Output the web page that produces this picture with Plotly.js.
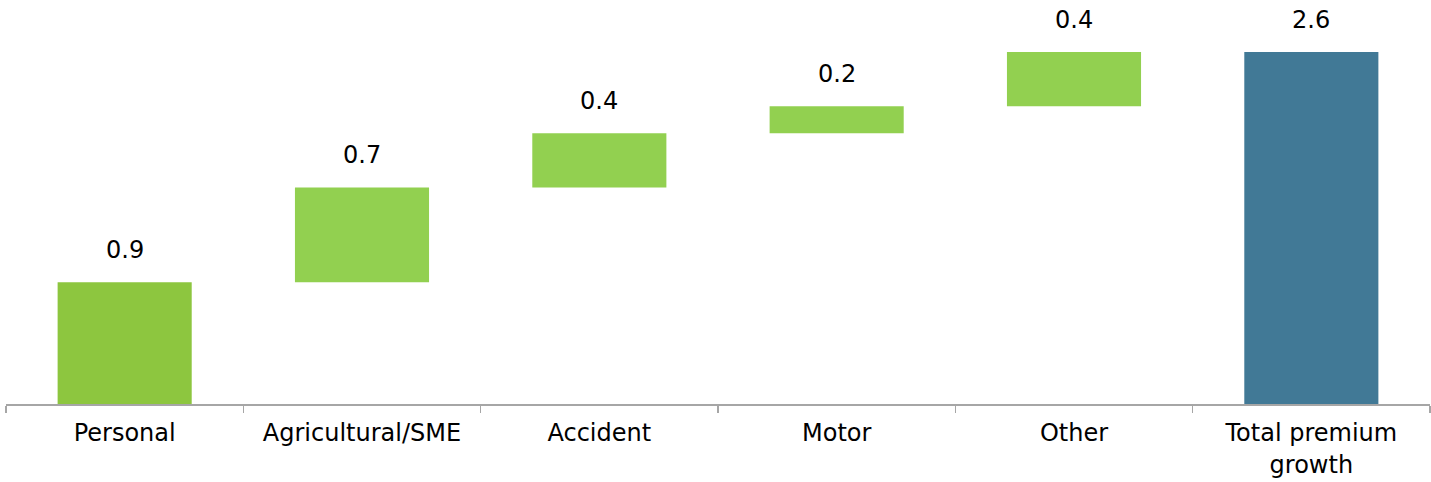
<!DOCTYPE html>
<html>
<head>
<meta charset="utf-8">
<script src="https://cdn.plot.ly/plotly-3.0.1.min.js"></script>
<style>html,body{margin:0;padding:0;background:#fff;}#chart{width:1431px;height:482px;}</style>
</head>
<body>
<div id="chart"></div>
<script>
const categories = ["Personal", "Agricultural/SME", "Accident", "Motor", "Other", "Total premium<br>growth"];
const increments = [0.9, 0.7, 0.4, 0.2, 0.4];
const total = 2.6;
const labels = ["0.9", "0.7", "0.4", "0.2", "0.4", "2.6"];
const barColors = ["#8DC63F", "#92D050", "#92D050", "#92D050", "#92D050", "#417996"];

const bases = [];
let run = 0;
for (const v of increments) { bases.push(run); run += v; }
bases.push(0);
const heights = increments.concat([total]);
const tops = heights.map((h, i) => h + bases[i]);

const FONT = "DejaVu Sans, Verdana, sans-serif";

const trace = {
  type: "bar",
  x: categories,
  y: heights,
  base: bases,
  marker: {color: barColors, line: {width: 0}},
  hoverinfo: "skip"
};

const annotations = categories.map((c, i) => ({
  x: c, y: tops[i], xref: "x", yref: "y",
  text: labels[i], showarrow: false,
  yanchor: "bottom", yshift: 16,
  font: {family: FONT, size: 24, color: "#000"}
}));

const layout = {
  width: 1431, height: 482,
  margin: {l: 6, r: 1, t: 52, b: 78},
  paper_bgcolor: "#fff", plot_bgcolor: "#fff",
  showlegend: false,
  bargap: 0.435,
  font: {family: FONT, size: 24, color: "#000"},
  xaxis: {
    type: "category",
    showline: true, linecolor: "#A6A6A6", linewidth: 1.5,
    ticks: "outside", tickson: "boundaries", ticklen: 7, tickcolor: "#A6A6A6", tickwidth: 1.5,
    ticklabelstandoff: 7,
    showgrid: false, zeroline: false,
    tickfont: {family: FONT, size: 24, color: "#000"}
  },
  yaxis: {
    range: [0, 2.6], visible: false, showgrid: false, zeroline: false
  },
  annotations: annotations
};

Plotly.newPlot("chart", [trace], layout, {staticPlot: true, displayModeBar: false});
</script>
</body>
</html>
